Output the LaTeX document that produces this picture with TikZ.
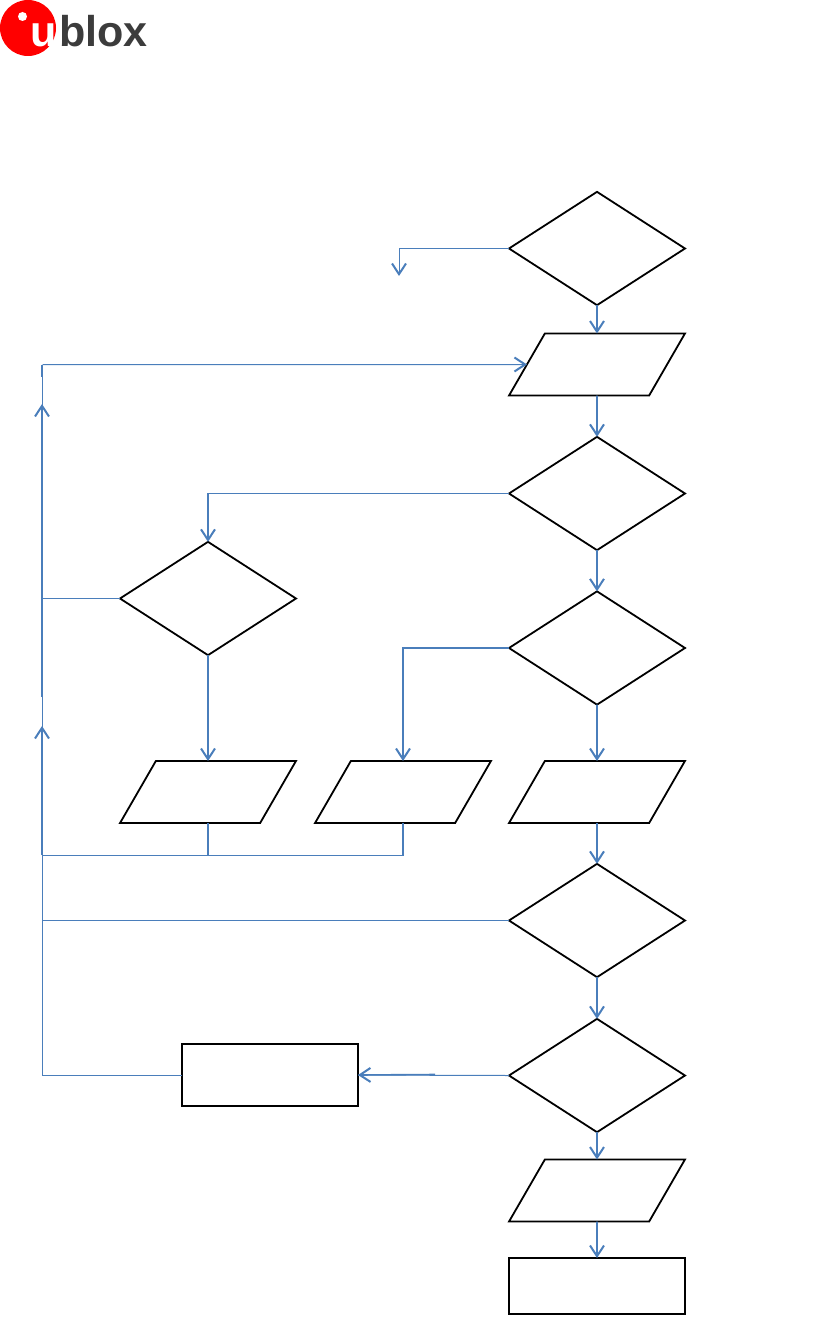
\documentclass[tikz,border=0pt]{standalone}
\usepackage{fontspec}
\setmainfont{Liberation Sans}
\usetikzlibrary{arrows.meta,shapes.geometric}
\definecolor{Flow}{HTML}{4A7EBB}
\definecolor{LogoRed}{HTML}{FF0000}
\definecolor{LogoGrey}{HTML}{3C3C3C}
\begin{document}
\begin{tikzpicture}[x=0.75pt,y=-0.75pt,
      decide/.style={diamond,draw=black,line width=1.35pt,shape aspect=1.56,inner sep=0pt,outer sep=0pt,
        minimum width=132pt,minimum height=85pt},
      inout/.style={trapezium,trapezium left angle=72,trapezium right angle=108,trapezium stretches=true,
        draw=black,line width=1.35pt,inner sep=0pt,outer sep=0pt,minimum width=132pt,minimum height=46.5pt,
        execute at begin node={\phantom{x}}},
      task/.style={rectangle,draw=black,line width=1.35pt,inner sep=0pt,outer sep=0pt,minimum width=132pt},
      flow/.style={draw=Flow,line width=0.75pt},
      flowa/.style={draw=Flow,line width=1.2pt,-{Straight Barb[length=8pt,width=10.5pt,line width=1.5pt]}},
      logotext/.style={inner sep=0pt,anchor=base west,font=\fontsize{32.3}{32.3}\selectfont\bfseries}]
    \useasboundingbox (0,0) rectangle (831,1319);
    \fill[LogoRed] (28,28) circle[radius=28];
    \fill[white] (22.5,16.5) circle[radius=4.5];
    \node[logotext,text=white] (logou) at (30,47) {u};
    \node[logotext,text=LogoGrey] (logoblox) at (59,47) {blox};
    \node[decide] (d1) at (597,248.5) {};
    \node[inout] (p1) at (597,364.5) {};
    \node[decide] (d2) at (597,493.5) {};
    \node[decide] (d3) at (597,648) {};
    \node[decide] (d4) at (597,920.5) {};
    \node[decide] (d5) at (597,1075.5) {};
    \node[decide] (d6) at (208,598.5) {};
    \node[inout] (p2) at (208,792) {};
    \node[inout] (p3) at (403,792) {};
    \node[inout] (p4) at (597,792) {};
    \node[inout] (p5) at (597,1190.5) {};
    \node[task,minimum height=46.5pt] (r1) at (270,1075) {};
    \node[task,minimum height=42pt] (e1) at (597,1286) {};
    \coordinate (skip) at (399,276);
    \coordinate (topleft) at (42.5,364.5);
    \coordinate (rise1) at (42,404);
    \coordinate (rise1s) at (42,697);
    \coordinate (rise2) at (42,726);
    \coordinate (rise2s) at (42,855);
    \coordinate (mid5) at (435,1074.5);
    \draw[flowa,line width=0.75pt] (d1.west) -| (skip);
    \draw[flowa] (d1.south) -- (p1.north);
    \draw[flowa] (p1.south) -- (d2.north);
    \draw[flowa] (d2.south) -- (d3.north);
    \draw[flowa,line width=0.9pt] (d2.west) -| (d6.north);
    \draw[flowa] (d3.west) -| (p3.north);
    \draw[flowa] (d3.south) -- (p4.north);
    \draw[flowa] (d6.south) -- (p2.north);
    \draw[flowa] (p4.south) -- (d4.north);
    \draw[flowa] (d4.south) -- (d5.north);
    \draw[flowa] (d5.south) -- (p5.north);
    \draw[flowa] (p5.south) -- (e1.north);
    \draw[flow] (d5.west) -- (r1.east);
    \draw[flowa] (mid5) -- (r1.east);
    \draw[flow] (r1.west) -| (topleft);
    \draw[flowa,line width=0.75pt] (topleft) -- (p1.west);
    \draw[flow,line width=1.1pt] (42,364.5) -- (42,377);
    \draw[flow] (d4.west) -- (d4.west -| topleft);
    \draw[flow] (d6.west) -- (d6.west -| topleft);
    \draw[flowa] (rise1s) -- (rise1);
    \draw[flowa] (rise2s) -- (rise2);
    \draw[flow] (p2.south) |- (rise2s);
    \draw[flow] (p3.south) |- (p2.south |- rise2s);
    \draw[flow,line width=1.2pt] (p2.south) -- (p2.south |- rise2s);
    \draw[flow,line width=1.2pt] (p3.south) -- (p3.south |- rise2s);
  \end{tikzpicture}
\end{document}
